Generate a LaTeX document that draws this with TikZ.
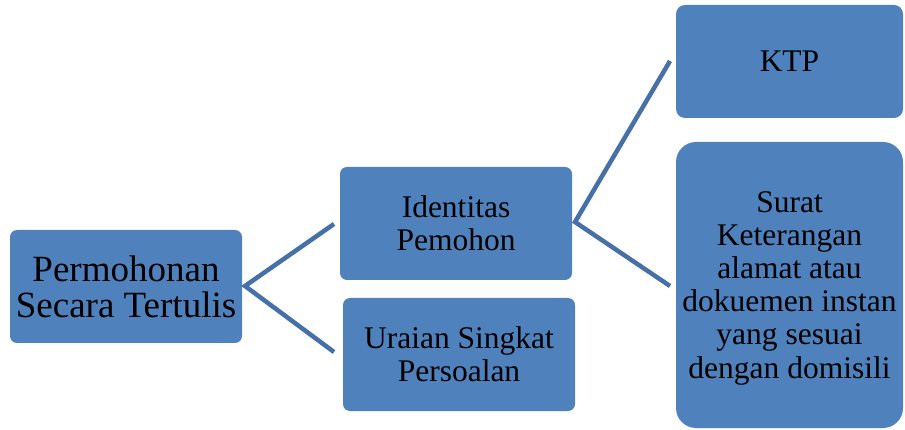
\documentclass[tikz,border=0pt]{standalone}
\usepackage{fontspec}
\setmainfont{Liberation Serif}
\definecolor{boxfill}{HTML}{4F81BD}
\definecolor{linkcol}{HTML}{4670A8}
\begin{document}
\begin{tikzpicture}[x=1pt,y=-1pt,
  box/.style={fill=boxfill, draw=none, align=center, inner sep=0pt, text=black},
  link/.style={draw=linkcol, line width=4.5pt, line join=miter}]
\useasboundingbox (0,0) rectangle (905,430);
\node[box, rounded corners=7pt, minimum width=232pt, minimum height=113pt,
  font=\fontsize{37}{36}\selectfont] (A) at (126,286.5) {Permohonan\\Secara Tertulis};
\node[box, rounded corners=7pt, minimum width=232pt, minimum height=113pt,
  font=\fontsize{31.5}{33}\selectfont] (B) at (456,223.5) {Identitas\\Pemohon};
\node[box, rounded corners=7pt, minimum width=232pt, minimum height=113pt,
  font=\fontsize{31.5}{33}\selectfont] (C) at (459,354.5) {Uraian Singkat\\Persoalan};
\node[box, rounded corners=9pt, minimum width=227pt, minimum height=113pt,
  font=\fontsize{31.5}{33}\selectfont] (D) at (789.5,61.5) {KTP};
\node[box, rounded corners=20pt, minimum width=227pt, minimum height=286pt] (E) at (789.5,285) {};
\node[align=center, inner sep=0pt, font=\fontsize{31.5}{33.2}\selectfont] (Et) at ([yshift=-3pt]E.center)
  {Surat\\Keterangan\\alamat atau\\dokuemen instan\\yang sesuai\\dengan domisili};
\coordinate (a1) at (245,286);
\coordinate (b0) at (334,224);
\coordinate (c0) at (334,352);
\coordinate (b1) at (575,222);
\coordinate (d0) at (670,61);
\coordinate (e0) at (670,286);
\draw[link] (b0) -- (a1) -- (c0);
\draw[link] (d0) -- (b1) -- (e0);
\end{tikzpicture}
\end{document}
